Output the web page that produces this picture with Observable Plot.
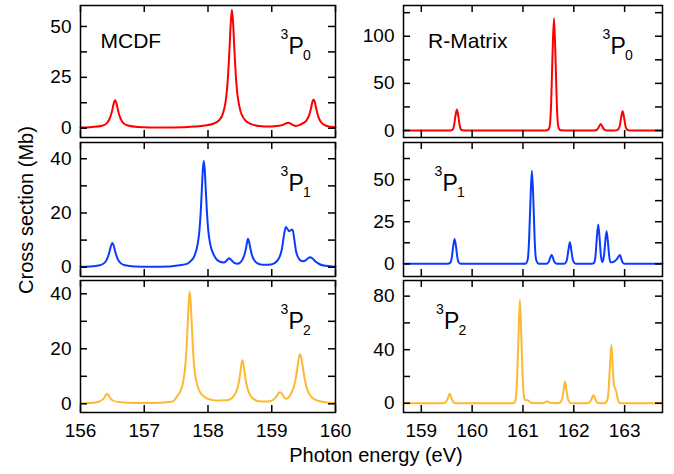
<!DOCTYPE html>
<html><head><meta charset="utf-8">
<script src="https://cdn.jsdelivr.net/npm/d3@7"></script>
<script src="https://cdn.jsdelivr.net/npm/@observablehq/plot@0.6"></script>
<style>
html,body{margin:0;padding:0;background:#fff;}
#chart{position:relative;width:674px;height:474px;overflow:hidden;font-family:"Liberation Sans",Arial,Helvetica,sans-serif;}
#chart svg{position:absolute;}
</style></head><body><div id="chart"></div>
<script>
// ---- Data: [photon energy (eV), cross section (Mb)] ----
const mcdfP0 = [[156.00,0.35],[156.19,0.6],[156.34,1.2],[156.413,2.5],[156.453,4.4],[156.483,7.0],[156.503,9.6],[156.523,12.4],[156.543,13.8],[156.563,12.4],[156.583,9.6],[156.603,7.0],[156.633,4.4],[156.673,2.5],[156.743,1.3],[156.90,0.6],[157.10,0.4],[157.35,0.35],[157.60,0.5],[157.80,0.8],[157.95,1.3],[158.08,2.2],[158.175,3.9],[158.235,7.3],[158.275,12.8],[158.295,18.0],[158.315,26],[158.335,37.5],[158.355,50.5],[158.375,58.2],[158.395,51],[158.415,38],[158.435,26.5],[158.455,18.5],[158.475,13.5],[158.515,7.8],[158.575,4.2],[158.675,2.0],[158.80,1.1],[158.95,0.8],[159.05,1.0],[159.15,1.4],[159.20,2.0],[159.235,2.5],[159.257,2.7],[159.28,2.5],[159.32,1.8],[159.38,1.1],[159.44,1.6],[159.50,2.6],[159.527,3.2],[159.567,5.0],[159.597,7.5],[159.617,10.0],[159.637,12.8],[159.657,14.1],[159.677,12.7],[159.697,9.8],[159.717,7.1],[159.747,4.4],[159.787,2.5],[159.857,1.2],[159.93,0.7],[160.00,0.45]];
const mcdfP1 = [[156.00,0.15],[156.20,0.35],[156.30,0.7],[156.37,1.5],[156.41,2.7],[156.44,4.5],[156.46,6.2],[156.48,8.0],[156.50,8.9],[156.52,8.0],[156.54,6.2],[156.56,4.5],[156.59,2.7],[156.63,1.5],[156.70,0.7],[156.85,0.3],[157.10,0.2],[157.40,0.3],[157.55,0.7],[157.68,1.3],[157.734,2.4],[157.784,4.0],[157.834,8.0],[157.864,13.2],[157.884,19.7],[157.904,28.9],[157.919,36],[157.934,39.2],[157.949,36],[157.964,29],[157.984,20],[158.004,13.6],[158.034,8.6],[158.084,4.9],[158.134,2.9],[158.20,1.9],[158.25,1.7],[158.29,2.4],[158.31,2.9],[158.33,3.3],[158.35,3.0],[158.38,2.3],[158.42,1.5],[158.46,1.3],[158.50,1.6],[158.54,2.8],[158.57,4.5],[158.59,6.3],[158.61,8.8],[158.627,10.5],[158.645,9.3],[158.665,6.9],[158.69,4.4],[158.72,2.8],[158.77,1.5],[158.85,0.9],[158.95,0.9],[159.03,1.3],[159.08,2.2],[159.12,3.6],[159.16,6.8],[159.19,11.5],[159.22,14.8],[159.24,14.3],[159.27,13.3],[159.295,13.6],[159.318,13.9],[159.335,13.2],[159.355,10.0],[159.38,6.0],[159.41,3.8],[159.45,2.5],[159.49,2.2],[159.53,2.5],[159.57,3.3],[159.603,3.7],[159.64,3.2],[159.69,2.0],[159.76,1.0],[159.85,0.5],[160.00,0.2]];
const mcdfP2 = [[156.00,0.2],[156.20,0.4],[156.30,0.9],[156.35,1.6],[156.38,2.5],[156.40,3.3],[156.415,3.6],[156.435,3.3],[156.46,2.3],[156.50,1.3],[156.58,0.7],[156.75,0.4],[157.00,0.3],[157.25,0.4],[157.45,0.8],[157.513,2.7],[157.563,4.4],[157.613,8.3],[157.643,13.5],[157.663,20.1],[157.683,29.5],[157.698,36.7],[157.713,40.8],[157.728,37],[157.743,30],[157.763,20.6],[157.783,13.8],[157.813,8.7],[157.863,4.8],[157.913,3.1],[157.98,2.0],[158.05,1.5],[158.12,1.2],[158.18,1.2],[158.23,1.3],[158.28,1.3],[158.33,1.5],[158.38,2.2],[158.43,3.8],[158.46,5.6],[158.49,8.7],[158.51,11.8],[158.525,14.5],[158.54,15.8],[158.555,14.6],[158.57,12.0],[158.59,8.8],[158.62,5.6],[158.66,3.2],[158.72,1.7],[158.80,0.9],[158.90,0.8],[158.98,1.0],[159.04,1.8],[159.08,2.9],[159.11,3.9],[159.13,4.2],[159.16,3.6],[159.20,2.2],[159.226,1.8],[159.27,2.4],[159.306,3.9],[159.346,6.2],[159.376,9.2],[159.406,13.6],[159.426,16.7],[159.446,18.0],[159.466,16.6],[159.486,13.5],[159.516,9.1],[159.546,6.0],[159.586,3.7],[159.646,2.0],[159.746,1.0],[159.86,0.5],[160.00,0.25]];
const rmP0 = [[158.65,0],[159.55,0],[159.59,0.3],[159.62,1.1],[159.645,5.6],[159.67,14.7],[159.70,22.3],[159.73,14.7],[159.755,5.6],[159.78,1.1],[159.81,0.2],[159.90,0],[161.45,0],[161.50,1],[161.53,6],[161.555,30],[161.58,78],[161.61,119],[161.64,78],[161.665,30],[161.69,6],[161.72,1],[161.76,0.2],[161.85,0],[162.40,0],[162.45,0.5],[162.48,2.5],[162.505,5],[162.53,7],[162.555,5],[162.58,2.3],[162.61,0.6],[162.65,0.1],[162.80,0],[162.85,0.4],[162.88,1.6],[162.905,5.2],[162.93,13.5],[162.96,20.5],[162.99,13.5],[163.015,5.2],[163.04,1.4],[163.07,0.3],[163.12,0],[163.745,0]];
const rmP1 = [[158.65,0],[159.50,0],[159.54,0.2],[159.575,0.8],[159.60,3.7],[159.625,9.8],[159.655,14.8],[159.685,9.8],[159.71,3.7],[159.735,0.8],[159.77,0.1],[159.85,0],[161.02,0],[161.06,0.3],[161.095,2.8],[161.12,13.8],[161.146,36.4],[161.176,55.2],[161.206,36.4],[161.231,13.8],[161.256,2.8],[161.29,0.4],[161.33,0],[161.44,0],[161.48,0.3],[161.51,1.3],[161.535,3.5],[161.563,5.3],[161.59,3.5],[161.615,1.3],[161.65,0.2],[161.70,0],[161.80,0],[161.84,0.6],[161.87,3.2],[161.895,8.4],[161.924,12.8],[161.95,8.4],[161.975,3.2],[162.01,0.6],[162.05,0],[162.34,0],[162.38,0.3],[162.405,1.0],[162.43,5.8],[162.45,14.2],[162.48,23.3],[162.51,14.2],[162.53,5.8],[162.562,1.1],[162.595,5.0],[162.615,11.8],[162.645,19.3],[162.675,11.8],[162.695,5.0],[162.72,1.0],[162.76,1.0],[162.80,1.5],[162.85,3.0],[162.88,4.3],[162.907,5.3],[162.935,3.0],[162.96,0.8],[162.99,0.1],[163.03,0],[163.745,0]];
const rmP2 = [[158.65,0],[159.42,0],[159.46,0.3],[159.49,1.2],[159.52,3.4],[159.557,7.0],[159.59,4.4],[159.615,1.8],[159.645,0.4],[159.68,0],[160.80,0],[160.83,0.4],[160.86,3.8],[160.885,19],[160.91,47],[160.94,77.3],[160.97,47],[160.995,19],[161.02,5],[161.05,2.2],[161.08,2.4],[161.11,1.8],[161.15,0.5],[161.20,0.1],[161.38,0],[161.42,0.4],[161.46,1.2],[161.49,1.3],[161.52,0.6],[161.56,0.1],[161.68,0],[161.72,0.3],[161.75,1.3],[161.775,4.0],[161.80,10.0],[161.826,16.2],[161.855,10.0],[161.88,4.0],[161.905,1.3],[161.94,0.2],[161.98,0],[162.26,0],[162.30,0.4],[162.33,1.6],[162.355,3.8],[162.385,6.2],[162.415,3.8],[162.44,1.4],[162.47,0.3],[162.52,0],[162.60,0],[162.63,0.5],[162.66,2.3],[162.685,10],[162.71,27],[162.74,43.6],[162.765,27],[162.79,13.5],[162.815,11.0],[162.84,8.0],[162.865,3.0],[162.89,0.6],[162.93,0],[163.745,0]];

// ---- Ticks and labels ----
const xTicksMCDF = [156, 157, 158, 159, 160];
const xTicksRM = [159, 160, 161, 162, 163];
const yTicksTL = [0, 12.5, 25, 37.5, 50], yLabelsTL = [0, 25, 50];
const yTicksTR = [0, 25, 50, 75, 100, 125], yLabelsTR = [0, 50, 100];
const yTicksML = [0, 10, 20, 30, 40], yLabelsML = [0, 20, 40];
const yTicksMR = [0, 12.5, 25, 37.5, 50, 62.5], yLabelsMR = [0, 25, 50];
const yTicksBL = [0, 10, 20, 30, 40], yLabelsBL = [0, 20, 40];
const yTicksBR = [0, 20, 40, 60, 80], yLabelsBR = [0, 40, 80];
const methodLabels = ["MCDF", "R-Matrix"];
const stateLabels = [["3", "P", "0"], ["3", "P", "1"], ["3", "P", "2"]];
const xTitle = "Photon energy (eV)";
const yTitle = "Cross section (Mb)";

const RED = "#ff0000", BLUE = "#0a3cff", ORANGE = "#ffb833";
const FONT = '"Liberation Sans", Arial, Helvetica, sans-serif';
const chart = document.getElementById("chart");

function panel(o) {
  const mL = 60, mR = 4, mT = 4, mB = o.showX ? 42 : 4;
  const w = o.w, h = o.h;
  const tk = 7;
  const marks = [
    Plot.line(o.data, {x: d => d[0], y: d => d[1], stroke: o.color, strokeWidth: 2, curve: "monotone-x"}),
    Plot.ruleX(o.xTicks, {x: d => d, insetTop: h - tk, stroke: "#000", strokeWidth: 1.5}),
    Plot.ruleX(o.xTicks, {x: d => d, insetBottom: h - tk, stroke: "#000", strokeWidth: 1.5}),
    Plot.ruleY(o.yTicks, {y: d => d, insetRight: w - tk, stroke: "#000", strokeWidth: 1.5}),
    Plot.ruleY(o.yTicks, {y: d => d, insetLeft: w - tk, stroke: "#000", strokeWidth: 1.5}),
    Plot.axisY({ticks: o.yLabels, tickSize: 0, tickPadding: 9, fontSize: 19, label: null, tickFormat: d => String(d)}),
    Plot.frame({stroke: "#000", strokeWidth: 1.5})
  ];
  if (o.showX) marks.push(Plot.axisX({ticks: o.xTicks, tickSize: 0, tickPadding: 11, fontSize: 19, label: null, tickFormat: d => String(d)}));
  if (o.method) marks.push(Plot.text([o.method], {text: d => d, frameAnchor: "top-left", dx: o.methodDx, dy: 42.3, textAnchor: "start", lineAnchor: "bottom", fontSize: 21}));
  const s = o.state, px = o.stateDx;
  marks.push(Plot.text([s[0]], {text: d => d, frameAnchor: "top-left", dx: px - 8, dy: 33, textAnchor: "start", lineAnchor: "bottom", fontSize: 14}));
  marks.push(Plot.text([s[1]], {text: d => d, frameAnchor: "top-left", dx: px, dy: 48, textAnchor: "start", lineAnchor: "bottom", fontSize: 23}));
  marks.push(Plot.text([s[2]], {text: d => d, frameAnchor: "top-left", dx: px + 14.5, dy: 54, textAnchor: "start", lineAnchor: "bottom", fontSize: 14}));
  const p = Plot.plot({
    width: mL + w + mR, height: mT + h + mB,
    marginLeft: mL, marginRight: mR, marginTop: mT, marginBottom: mB,
    x: {domain: o.xDomain, axis: null},
    y: {domain: o.yDomain, axis: null},
    style: {fontFamily: FONT, color: "#000", background: "transparent", overflow: "visible"},
    marks
  });
  p.style.left = (o.left - mL) + "px";
  p.style.top = (o.top - mT) + "px";
  chart.append(p);
}

const L = {left: 80, w: 255, xDomain: [156, 160], xTicks: xTicksMCDF, stateDx: 208};
const R = {left: 403, w: 259, xDomain: [158.65, 163.745], xTicks: xTicksRM};

panel({...L, top: 5, h: 132, data: mcdfP0, color: RED, yDomain: [-4.57, 60.3], yTicks: yTicksTL, yLabels: yLabelsTL, method: methodLabels[0], methodDx: 20, state: stateLabels[0]});
panel({...R, top: 5, h: 132, data: rmP0, color: RED, yDomain: [-7.4, 132.6], yTicks: yTicksTR, yLabels: yLabelsTR, method: methodLabels[1], methodDx: 24.6, state: stateLabels[0], stateDx: 207});
panel({...L, top: 142, h: 134, data: mcdfP1, color: BLUE, yDomain: [-3.43, 46.0], yTicks: yTicksML, yLabels: yLabelsML, state: stateLabels[1]});
panel({...R, top: 142, h: 134, data: rmP1, color: BLUE, yDomain: [-7.5, 72.0], yTicks: yTicksMR, yLabels: yLabelsMR, state: stateLabels[1], stateDx: 39});
panel({...L, top: 280, h: 132, data: mcdfP2, color: ORANGE, yDomain: [-3.16, 44.84], yTicks: yTicksBL, yLabels: yLabelsBL, state: stateLabels[2], showX: true});
panel({...R, top: 280, h: 132, data: rmP2, color: ORANGE, yDomain: [-6.95, 91.7], yTicks: yTicksBR, yLabels: yLabelsBR, state: stateLabels[2], stateDx: 40.5, showX: true});

const ov = d3.create("svg").attr("width", 674).attr("height", 474)
  .style("left", "0px").style("top", "0px").style("pointer-events", "none")
  .style("font-family", FONT);
ov.append("text").attr("x", 376).attr("y", 462).attr("text-anchor", "middle").attr("font-size", 20).attr("fill", "#000").text(xTitle);
ov.append("text").attr("transform", "translate(33,210) rotate(-90)").attr("text-anchor", "middle").attr("font-size", 20).attr("fill", "#000").text(yTitle);
chart.append(ov.node());
</script>
</body></html>
